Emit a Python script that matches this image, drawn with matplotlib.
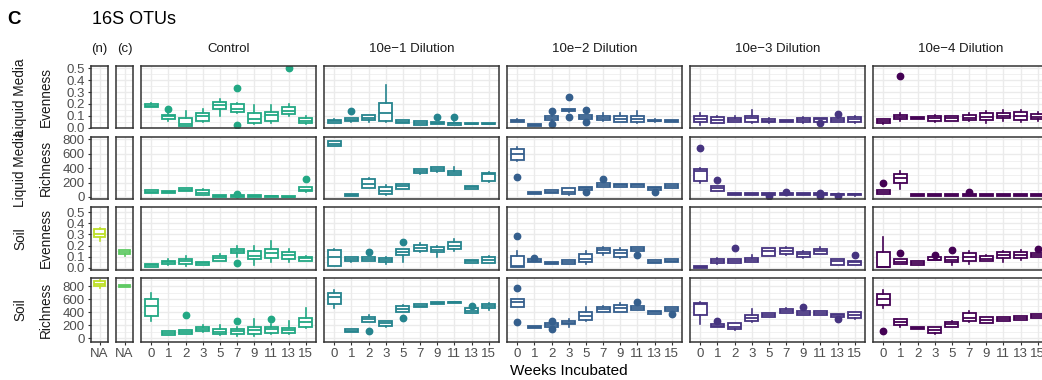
import matplotlib
matplotlib.use("Agg")
import matplotlib.pyplot as plt
from matplotlib import cm
from matplotlib.ticker import MultipleLocator

plt.rcParams['font.family'] = ['Liberation Sans', 'DejaVu Sans']

weeks = ["0", "1", "2", "3", "5", "7", "9", "11", "13", "15"]
groups = ["Control", "10e\u22121 Dilution", "10e\u22122 Dilution",
          "10e\u22123 Dilution", "10e\u22124 Dilution"]

# each box: (lower whisker, q1, median, q3, upper whisker)
liquid_evenness = {
    "Control": [(0.17, 0.175, 0.185, 0.20, 0.21), (0.06, 0.075, 0.095, 0.11, 0.12),
                (0.015, 0.018, 0.03, 0.085, 0.14), (0.05, 0.06, 0.095, 0.12, 0.16),
                (0.10, 0.155, 0.19, 0.22, 0.245), (0.12, 0.135, 0.16, 0.20, 0.21),
                (0.03, 0.04, 0.075, 0.12, 0.19), (0.04, 0.06, 0.11, 0.135, 0.19),
                (0.10, 0.115, 0.14, 0.17, 0.20), (0.03, 0.04, 0.06, 0.08, 0.10)],
    "10e\u22121 Dilution": [(0.04, 0.04, 0.055, 0.068, 0.07), (0.05, 0.052, 0.065, 0.078, 0.08),
                (0.05, 0.062, 0.085, 0.104, 0.11), (0.05, 0.056, 0.125, 0.21, 0.36),
                (0.042, 0.042, 0.05, 0.062, 0.065), (0.023, 0.025, 0.04, 0.058, 0.06),
                (0.03, 0.03, 0.04, 0.045, 0.05), (0.025, 0.025, 0.035, 0.04, 0.045),
                (0.027, 0.027, 0.03, 0.035, 0.035), (0.027, 0.027, 0.03, 0.035, 0.035)],
    "10e\u22122 Dilution": [(0.048, 0.05, 0.06, 0.065, 0.07), (0.014, 0.016, 0.025, 0.03, 0.034),
                (0.06, 0.068, 0.085, 0.10, 0.11), (0.135, 0.137, 0.145, 0.155, 0.157),
                (0.073, 0.075, 0.09, 0.105, 0.107), (0.06, 0.062, 0.085, 0.10, 0.12),
                (0.045, 0.05, 0.075, 0.095, 0.12), (0.04, 0.045, 0.075, 0.10, 0.14),
                (0.05, 0.052, 0.06, 0.068, 0.07), (0.05, 0.05, 0.058, 0.063, 0.065)],
    "10e\u22123 Dilution": [(0.024, 0.05, 0.075, 0.096, 0.12), (0.035, 0.04, 0.065, 0.088, 0.10),
                (0.045, 0.046, 0.065, 0.084, 0.10), (0.04, 0.05, 0.08, 0.096, 0.15),
                (0.04, 0.046, 0.06, 0.075, 0.08), (0.05, 0.05, 0.06, 0.068, 0.068),
                (0.04, 0.046, 0.065, 0.084, 0.09), (0.045, 0.05, 0.07, 0.08, 0.08),
                (0.05, 0.05, 0.065, 0.084, 0.09), (0.04, 0.05, 0.07, 0.088, 0.10)],
    "10e\u22124 Dilution": [(0.03, 0.037, 0.055, 0.073, 0.075), (0.06, 0.07, 0.09, 0.11, 0.12),
                (0.07, 0.07, 0.08, 0.088, 0.088), (0.05, 0.06, 0.08, 0.10, 0.11),
                (0.055, 0.06, 0.08, 0.10, 0.10), (0.06, 0.065, 0.085, 0.105, 0.12),
                (0.04, 0.065, 0.09, 0.12, 0.14), (0.06, 0.08, 0.10, 0.125, 0.15),
                (0.05, 0.065, 0.10, 0.13, 0.15), (0.06, 0.07, 0.09, 0.115, 0.13)],
}
liquid_evenness_out = {
    "Control": {"1": [0.155], "7": [0.335, 0.025], "13": [0.5]},
    "10e\u22121 Dilution": {"1": [0.143], "9": [0.088], "11": [0.088]},
    "10e\u22122 Dilution": {"2": [0.14, 0.028], "3": [0.256, 0.093], "5": [0.145, 0.05]},
    "10e\u22123 Dilution": {"11": [0.037], "13": [0.115]},
    "10e\u22124 Dilution": {"1": [0.435]},
}

liquid_richness = {
    "Control": [(55, 60, 75, 97, 100), (50, 51, 65, 83, 85), (85, 87, 100, 124, 125),
                (25, 28, 60, 92, 110), (0, 0, 10, 32, 32), (0, 5, 15, 30, 35),
                (3, 5, 15, 28, 30), (0, 2, 10, 15, 15), (0, 2, 5, 15, 15),
                (75, 79, 100, 134, 140)],
    "10e\u22121 Dilution": [(700, 703, 740, 772, 780), (14, 14, 25, 41, 41), (120, 128, 175, 244, 265),
                (30, 37, 87, 142, 160), (115, 115, 145, 179, 180), (320, 327, 355, 386, 390),
                (350, 359, 385, 418, 420), (299, 299, 330, 359, 418), (110, 110, 135, 156, 156),
                (210, 220, 317, 335, 340)],
    "10e\u22122 Dilution": [(500, 510, 593, 658, 685), (41, 41, 55, 73, 73), (59, 59, 75, 97, 97),
                (30, 37, 75, 120, 125), (97, 97, 120, 142, 142), (142, 142, 165, 189, 189),
                (138, 138, 160, 183, 183), (133, 133, 160, 179, 179), (97, 97, 125, 142, 142),
                (124, 124, 150, 175, 175)],
    "10e\u22123 Dilution": [(197, 225, 354, 382, 400), (87, 87, 120, 152, 152), (23, 25, 40, 55, 55),
                (23, 25, 40, 55, 55), (23, 25, 38, 55, 55), (25, 28, 40, 55, 55),
                (25, 28, 40, 52, 55), (25, 28, 40, 52, 55), (20, 22, 35, 45, 48),
                (20, 22, 35, 45, 48)],
    "10e\u22124 Dilution": [(46, 46, 75, 101, 101), (106, 189, 258, 313, 359), (14, 14, 25, 37, 37),
                (14, 14, 25, 37, 37), (14, 14, 25, 37, 37), (14, 14, 25, 37, 37),
                (14, 14, 25, 37, 37), (14, 14, 25, 37, 37), (14, 14, 25, 37, 37),
                (14, 14, 25, 37, 37)],
}
liquid_richness_out = {
    "Control": {"7": [45], "15": [248]},
    "10e\u22121 Dilution": {},
    "10e\u22122 Dilution": {"0": [280], "5": [73], "7": [244], "13": [73]},
    "10e\u22123 Dilution": {"0": [672], "1": [234], "5": [15], "7": [62], "11": [60, 20], "13": [15]},
    "10e\u22124 Dilution": {"0": [197], "7": [73]},
}

soil_evenness = {
    "Control": [(0.012, 0.012, 0.025, 0.036, 0.036), (0.03, 0.036, 0.05, 0.065, 0.08),
                (0.02, 0.036, 0.06, 0.078, 0.11), (0.03, 0.03, 0.045, 0.055, 0.055),
                (0.06, 0.065, 0.09, 0.11, 0.125), (0.10, 0.131, 0.15, 0.17, 0.20),
                (0.03, 0.08, 0.11, 0.15, 0.20), (0.05, 0.086, 0.13, 0.17, 0.245),
                (0.05, 0.078, 0.12, 0.145, 0.17), (0.06, 0.065, 0.085, 0.10, 0.11)],
    "10e\u22121 Dilution": [(0.02, 0.02, 0.095, 0.16, 0.17), (0.055, 0.065, 0.08, 0.095, 0.095),
                (0.065, 0.065, 0.08, 0.10, 0.10), (0.04, 0.053, 0.075, 0.092, 0.10),
                (0.05, 0.116, 0.14, 0.167, 0.17), (0.145, 0.152, 0.18, 0.205, 0.22),
                (0.10, 0.14, 0.165, 0.19, 0.20), (0.15, 0.17, 0.20, 0.235, 0.26),
                (0.042, 0.042, 0.06, 0.071, 0.071), (0.045, 0.047, 0.075, 0.10, 0.11)],
    "10e\u22122 Dilution": [(0.012, 0.012, 0.02, 0.11, 0.15), (0.056, 0.056, 0.065, 0.078, 0.078),
                (0.038, 0.038, 0.045, 0.056, 0.056), (0.04, 0.04, 0.055, 0.07, 0.07),
                (0.04, 0.05, 0.08, 0.122, 0.15), (0.12, 0.137, 0.16, 0.18, 0.19),
                (0.09, 0.095, 0.13, 0.16, 0.18), (0.155, 0.155, 0.17, 0.185, 0.19),
                (0.045, 0.045, 0.055, 0.07, 0.07), (0.05, 0.05, 0.065, 0.08, 0.08)],
    "10e\u22123 Dilution": [(0.0, 0.0, 0.01, 0.02, 0.02), (0.04, 0.042, 0.06, 0.078, 0.085),
                (0.042, 0.042, 0.06, 0.078, 0.078), (0.05, 0.053, 0.075, 0.092, 0.12),
                (0.11, 0.11, 0.15, 0.18, 0.18), (0.12, 0.125, 0.155, 0.18, 0.185),
                (0.09, 0.095, 0.125, 0.145, 0.15), (0.125, 0.125, 0.15, 0.17, 0.19),
                (0.03, 0.03, 0.06, 0.08, 0.08), (0.03, 0.03, 0.05, 0.066, 0.066)],
    "10e\u22124 Dilution": [(0.006, 0.006, 0.01, 0.14, 0.274), (0.036, 0.036, 0.05, 0.078, 0.078),
                (0.025, 0.025, 0.045, 0.06, 0.06), (0.068, 0.068, 0.075, 0.10, 0.10),
                (0.03, 0.05, 0.075, 0.095, 0.095), (0.04, 0.065, 0.10, 0.13, 0.15),
                (0.06, 0.06, 0.08, 0.11, 0.12), (0.05, 0.09, 0.12, 0.14, 0.15),
                (0.07, 0.09, 0.115, 0.14, 0.16), (0.10, 0.10, 0.12, 0.13, 0.13)],
}
soil_evenness_out = {
    "Control": {"7": [0.042]},
    "10e\u22121 Dilution": {"2": [0.14], "5": [0.235]},
    "10e\u22122 Dilution": {"0": [0.288], "1": [0.09], "11": [0.116]},
    "10e\u22123 Dilution": {"2": [0.18], "15": [0.116]},
    "10e\u22124 Dilution": {"1": [0.13], "3": [0.12], "5": [0.163], "15": [0.17]},
}

soil_richness = {
    "Control": [(266, 348, 497, 600, 692), (51, 51, 80, 112, 112), (66, 66, 100, 128, 128),
                (90, 112, 145, 178, 200), (50, 62, 100, 143, 200), (40, 62, 105, 143, 170),
                (35, 66, 130, 178, 297), (60, 77, 135, 169, 220), (70, 86, 125, 163, 260),
                (150, 169, 255, 308, 461)],
    "10e\u22121 Dilution": [(461, 528, 625, 692, 732), (97, 97, 115, 138, 138), (255, 255, 290, 332, 350),
                (180, 194, 230, 266, 270), (400, 409, 455, 497, 510), (477, 477, 500, 523, 523),
                (523, 523, 545, 563, 563), (540, 540, 550, 563, 563), (394, 394, 425, 461, 461),
                (430, 461, 490, 523, 540)],
    "10e\u22122 Dilution": [(486, 486, 563, 605, 605), (163, 163, 175, 194, 194), (178, 178, 205, 231, 231),
                (170, 215, 240, 271, 290), (260, 282, 348, 409, 486), (400, 405, 445, 477, 490),
                (400, 409, 470, 512, 540), (435, 435, 465, 497, 497), (369, 369, 395, 420, 420),
                (420, 420, 450, 477, 477)],
    "10e\u22123 Dilution": [(220, 358, 523, 538, 563), (169, 169, 195, 220, 220), (120, 138, 175, 231, 240),
                (250, 271, 315, 358, 446), (323, 323, 350, 385, 385), (394, 394, 425, 455, 470),
                (358, 358, 390, 420, 420), (358, 358, 385, 420, 420), (332, 332, 355, 378, 378),
                (300, 308, 355, 400, 400)],
    "10e\u22124 Dilution": [(461, 512, 605, 671, 732), (180, 205, 255, 297, 300), (138, 138, 160, 178, 178),
                (70, 86, 130, 169, 180), (178, 178, 215, 255, 260), (250, 266, 317, 385, 420),
                (240, 240, 285, 323, 323), (266, 266, 300, 332, 332), (282, 282, 315, 348, 348),
                (312, 312, 340, 374, 374)],
}
soil_richness_out = {
    "Control": {"2": [358], "7": [266], "11": [297]},
    "10e\u22121 Dilution": {"2": [112], "5": [317], "13": [497]},
    "10e\u22122 Dilution": {"0": [769, 255], "2": [271, 138], "11": [554], "15": [374]},
    "10e\u22123 Dilution": {"1": [271], "9": [477], "13": [297]},
    "10e\u22124 Dilution": {"0": [117]},
}

# inoculum columns (only soil rows have data)
soil_evenness_n = (0.24, 0.274, 0.305, 0.345, 0.36)
soil_evenness_c = (0.11, 0.125, 0.14, 0.16, 0.16)
soil_richness_n = (770, 794, 835, 871, 890)
soil_richness_c = (790, 792, 800, 812, 815)

W, H = 1042, 380
fig = plt.figure(figsize=(W / 100, H / 100), dpi=100)

col_x = [(91, 108), (116, 133), (141, 316), (324, 499), (507, 682), (690, 865), (873, 1048)]
row_y = [(66, 128), (137, 199), (207, 270), (278, 342)]
col_names = ["(n)", "(c)"] + groups
vir = [0.9, 0.75, 0.6, 0.45, 0.3, 0.15, 0.0]
colors = [cm.viridis(v) for v in vir]

rows = [
    ("Liquid Media", "Evenness", liquid_evenness, liquid_evenness_out, None, None, (-0.003, 0.519)),
    ("Liquid Media", "Richness", liquid_richness, liquid_richness_out, None, None, (-28, 830)),
    ("Soil", "Evenness", soil_evenness, soil_evenness_out, soil_evenness_n, soil_evenness_c, (-0.018, 0.545)),
    ("Soil", "Richness", soil_richness, soil_richness_out, soil_richness_n, soil_richness_c, (-57, 923)),
]


def make_stats(boxes, outs, labels):
    stats = []
    for lab, (lo, q1, med, q3, hi) in zip(labels, boxes):
        stats.append(dict(whislo=lo, q1=q1, med=med, q3=q3, whishi=hi,
                          fliers=outs.get(lab, [])))
    return stats


def draw(ax, stats, positions, color):
    ax.bxp(stats, positions=positions, widths=0.75, patch_artist=True, showcaps=False,
           boxprops=dict(facecolor="white", edgecolor=color, linewidth=1.3),
           medianprops=dict(color=color, linewidth=1.3),
           whiskerprops=dict(color=color, linewidth=1.2),
           flierprops=dict(marker="o", markerfacecolor=color, markeredgecolor=color,
                           markersize=4.6, linestyle="none"))


for r, (strip, ylab, data, outs, nbox, cbox, ylim) in enumerate(rows):
    y0, y1 = row_y[r]
    even = ylab == "Evenness"
    for c, (x0, x1) in enumerate(col_x):
        ax = fig.add_axes([x0 / W, 1 - y1 / H, (x1 - x0) / W, (y1 - y0) / H])
        ax.set_axisbelow(True)
        if c < 2:
            labels = ["NA"]
            pos = [1]
            box = nbox if c == 0 else cbox
            if box is not None:
                draw(ax, make_stats([box], {}, labels), pos, colors[c])
            ax.set_xlim(0.4, 1.6)
        else:
            labels = weeks
            pos = list(range(1, len(weeks) + 1))
            g = groups[c - 2]
            draw(ax, make_stats(data[g], outs[g], labels), pos, colors[c])
            ax.set_xlim(0.4, 10.6)
        ax.set_xticks(pos, labels)
        ax.set_ylim(*ylim)
        if even:
            ax.yaxis.set_major_locator(MultipleLocator(0.1))
            ax.yaxis.set_minor_locator(MultipleLocator(0.05))
            ax.yaxis.set_major_formatter(plt.FuncFormatter(lambda v, p: f"{v:.1f}"))
        else:
            ax.yaxis.set_major_locator(MultipleLocator(200))
            ax.yaxis.set_minor_locator(MultipleLocator(100))
            ax.yaxis.set_major_formatter(plt.FuncFormatter(lambda v, p: f"{v:.0f}"))
        ax.grid(which="major", color="#EBEBEB", linewidth=1.0)
        ax.grid(which="minor", axis="y", color="#EBEBEB", linewidth=0.5)
        for s in ax.spines.values():
            s.set_color("#333333")
            s.set_linewidth(1.1)
        ax.tick_params(which="minor", left=False, bottom=False)
        ax.tick_params(which="major", length=2.5, width=0.8, color="#333333",
                       labelcolor="#4D4D4D", labelsize=9.5, pad=2)
        if c != 0:
            ax.tick_params(left=False, labelleft=False)
        if r != 3:
            ax.tick_params(bottom=False, labelbottom=False)
        if r == 0:
            ax.text(0.5, 1 + 11 / (y1 - y0), col_names[c], transform=ax.transAxes,
                    ha="center", va="bottom", fontsize=9.5, color="#1A1A1A")
    yc = 1 - (y0 + y1) / 2 / H
    fig.text(20 / W, yc, strip, rotation=90, ha="center", va="center", fontsize=9.8,
             color="#1A1A1A")
    fig.text(46 / W, yc, ylab, rotation=90, ha="center", va="center", fontsize=9.8,
             color="#1A1A1A")

fig.text(14 / W, 1 - 19 / H, "C", fontsize=13.5, fontweight="bold", ha="center",
         va="center")
fig.text(92 / W, 1 - 19 / H, "16S OTUs", fontsize=13, ha="left", va="center")
fig.text(569 / W, 1 - 371 / H, "Weeks Incubated", fontsize=11, ha="center",
         va="center")

fig.savefig("out.png", dpi=100)
